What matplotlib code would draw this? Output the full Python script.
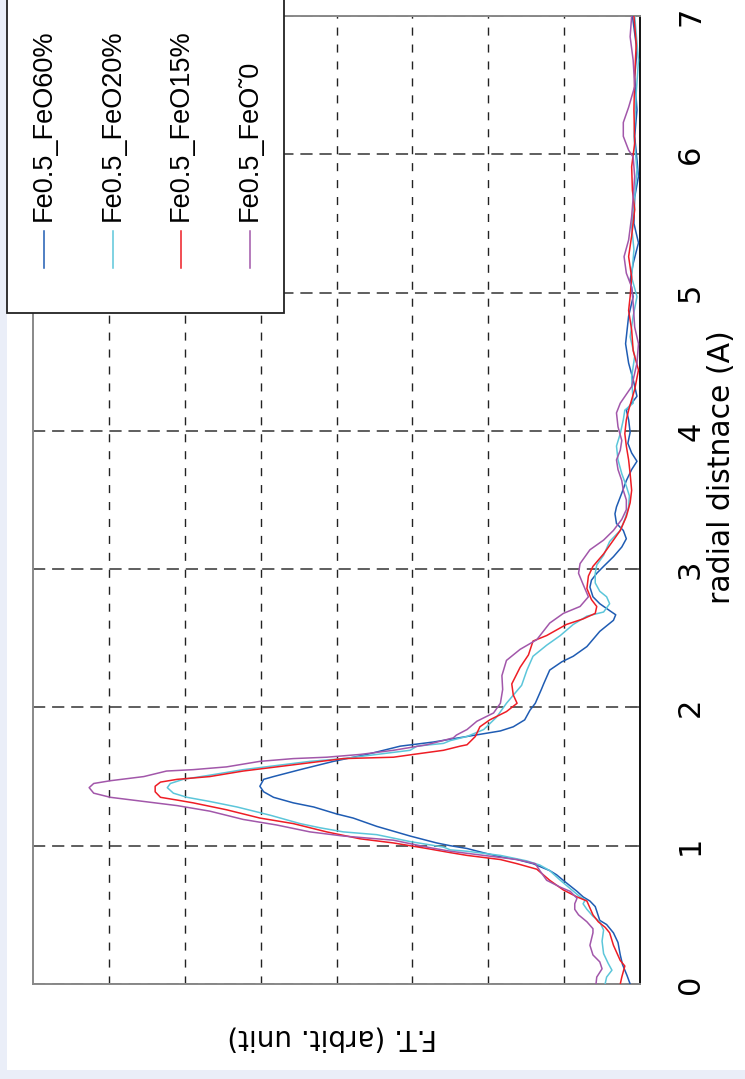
import matplotlib
matplotlib.use("Agg")
import matplotlib.pyplot as plt
from matplotlib.patches import Rectangle
from matplotlib.lines import Line2D

# radial distance (A) and F.T. amplitude (arbit. unit)
r_blue = [0.00, 0.06, 0.14, 0.21, 0.30, 0.37, 0.43, 0.46, 0.56, 0.60, 0.63, 0.67, 0.74, 0.79, 0.82,
          0.87, 0.90, 0.92, 0.95, 0.98, 1.00, 1.02, 1.07, 1.14, 1.20, 1.23, 1.28, 1.31, 1.35, 1.39,
          1.43, 1.48, 1.50, 1.55, 1.61, 1.66, 1.72, 1.75, 1.79, 1.83, 1.86, 1.91, 1.98, 2.03, 2.13,
          2.17, 2.27, 2.33, 2.37, 2.44, 2.55, 2.63, 2.67, 2.70, 2.75, 2.80, 2.87, 2.92, 2.97, 3.02,
          3.09, 3.16, 3.22, 3.28, 3.33, 3.40, 3.45, 3.55, 3.64, 3.72, 3.78, 3.84, 3.91, 3.99, 4.08,
          4.15, 4.25, 4.37, 4.49, 4.63, 4.83, 4.97, 5.09, 5.21, 5.36, 5.50, 5.69, 5.84, 5.96, 6.13,
          6.32, 6.56, 6.75, 7.00]
ft_blue = [0.13, 0.17, 0.23, 0.26, 0.29, 0.35, 0.44, 0.53, 0.59, 0.66, 0.75, 0.83, 0.99, 1.10, 1.19,
           1.41, 1.62, 1.84, 2.07, 2.28, 2.50, 2.68, 3.03, 3.47, 3.78, 4.00, 4.30, 4.57, 4.83, 4.96,
           5.01, 4.96, 4.83, 4.48, 4.04, 3.60, 3.16, 2.72, 2.28, 1.84, 1.67, 1.52, 1.45, 1.38, 1.30,
           1.27, 1.19, 1.03, 0.88, 0.70, 0.53, 0.35, 0.32, 0.40, 0.53, 0.62, 0.66, 0.64, 0.57, 0.48,
           0.35, 0.24, 0.18, 0.22, 0.31, 0.33, 0.31, 0.24, 0.18, 0.11, 0.04, 0.11, 0.16, 0.13, 0.15,
           0.18, 0.04, 0.09, 0.15, 0.19, 0.15, 0.09, 0.13, 0.09, 0.02, 0.08, 0.07, 0.02, 0.04, 0.07,
           0.04, 0.07, 0.04, 0.10]

r_cyan = [0.00, 0.05, 0.10, 0.15, 0.22, 0.31, 0.39, 0.45, 0.49, 0.54, 0.58, 0.61, 0.63, 0.69, 0.75,
          0.82, 0.86, 0.89, 0.93, 0.96, 0.97, 0.99, 1.03, 1.08, 1.10, 1.13, 1.16, 1.22, 1.28, 1.32,
          1.35, 1.38, 1.42, 1.45, 1.48, 1.51, 1.55, 1.58, 1.61, 1.63, 1.66, 1.69, 1.72, 1.74, 1.76,
          1.79, 1.84, 1.93, 2.03, 2.16, 2.27, 2.37, 2.45, 2.52, 2.60, 2.66, 2.69, 2.75, 2.80, 2.84,
          2.90, 2.97, 3.03, 3.10, 3.20, 3.28, 3.36, 3.45, 3.53, 3.60, 3.69, 3.79, 3.89, 3.98, 4.08,
          4.15, 4.20, 4.39, 4.54, 4.68, 4.83, 4.97, 5.11, 5.31, 5.48, 5.69, 5.89, 6.13, 6.44, 6.68,
          7.00]
ft_cyan = [0.46, 0.44, 0.37, 0.42, 0.48, 0.50, 0.48, 0.53, 0.62, 0.70, 0.75, 0.72, 0.79, 0.92, 1.05,
           1.19, 1.32, 1.49, 1.84, 2.28, 2.50, 2.59, 3.03, 3.47, 3.91, 4.22, 4.48, 4.87, 5.31, 5.67,
           5.97, 6.15, 6.23, 6.19, 6.02, 5.67, 5.23, 4.79, 4.35, 3.91, 3.47, 3.03, 2.94, 2.59, 2.50,
           2.28, 2.06, 1.89, 1.76, 1.56, 1.49, 1.41, 1.23, 1.05, 0.88, 0.70, 0.48, 0.40, 0.44, 0.53,
           0.59, 0.59, 0.57, 0.48, 0.40, 0.26, 0.20, 0.15, 0.14, 0.18, 0.24, 0.29, 0.31, 0.26, 0.22,
           0.20, 0.09, 0.11, 0.07, 0.13, 0.09, 0.04, 0.11, 0.08, 0.11, 0.07, 0.04, 0.08, 0.05, 0.02,
           0.07]

r_red = [0.00, 0.05, 0.13, 0.17, 0.28, 0.37, 0.41, 0.45, 0.50, 0.55, 0.60, 0.63, 0.68, 0.75, 0.83,
         0.87, 0.90, 0.93, 0.95, 0.98, 1.02, 1.05, 1.10, 1.16, 1.20, 1.26, 1.31, 1.33, 1.35, 1.39,
         1.43, 1.46, 1.48, 1.50, 1.54, 1.57, 1.60, 1.63, 1.64, 1.66, 1.69, 1.72, 1.73, 1.79, 1.86,
         1.91, 1.97, 2.03, 2.09, 2.13, 2.17, 2.29, 2.38, 2.48, 2.52, 2.60, 2.64, 2.68, 2.73, 2.78,
         2.86, 2.95, 3.02, 3.11, 3.21, 3.28, 3.38, 3.48, 3.57, 3.69, 3.79, 3.89, 3.98, 4.08, 4.15,
         4.30, 4.44, 4.58, 4.73, 4.87, 4.97, 5.11, 5.26, 5.41, 5.60, 5.74, 5.91, 6.08, 6.32, 6.56,
         6.80, 7.00]
ft_red = [0.26, 0.24, 0.20, 0.26, 0.35, 0.40, 0.46, 0.55, 0.62, 0.66, 0.70, 0.83, 1.01, 1.19, 1.36,
          1.62, 1.84, 2.28, 2.50, 2.81, 3.25, 3.69, 4.13, 4.57, 5.01, 5.45, 5.89, 6.10, 6.32, 6.39,
          6.39, 6.32, 6.10, 5.67, 5.23, 4.79, 4.35, 3.91, 3.25, 2.99, 2.59, 2.37, 2.28, 2.17, 2.11,
          1.98, 1.76, 1.62, 1.67, 1.68, 1.69, 1.58, 1.47, 1.41, 1.23, 0.97, 0.75, 0.59, 0.57, 0.64,
          0.70, 0.68, 0.62, 0.48, 0.35, 0.26, 0.18, 0.13, 0.11, 0.13, 0.15, 0.18, 0.20, 0.18, 0.15,
          0.07, 0.02, 0.09, 0.11, 0.15, 0.13, 0.11, 0.15, 0.11, 0.07, 0.10, 0.11, 0.07, 0.08, 0.07,
          0.05, 0.08]

r_purple = [0.00, 0.05, 0.11, 0.16, 0.21, 0.28, 0.37, 0.40, 0.45, 0.50, 0.54, 0.58, 0.62, 0.67, 0.70,
            0.75, 0.82, 0.87, 0.90, 0.93, 0.96, 0.99, 1.04, 1.07, 1.10, 1.15, 1.19, 1.25, 1.29, 1.32,
            1.35, 1.38, 1.42, 1.45, 1.47, 1.50, 1.54, 1.55, 1.57, 1.61, 1.63, 1.64, 1.66, 1.69, 1.73,
            1.78, 1.80, 1.84, 1.90, 1.96, 2.03, 2.13, 2.23, 2.34, 2.42, 2.49, 2.61, 2.68, 2.73, 2.80,
            2.89, 2.97, 3.04, 3.14, 3.21, 3.28, 3.36, 3.43, 3.50, 3.57, 3.64, 3.72, 3.79, 3.86, 3.93,
            4.03, 4.13, 4.20, 4.32, 4.49, 4.63, 4.75, 4.92, 5.04, 5.14, 5.26, 5.38, 5.55, 5.69, 5.84,
            5.98, 6.03, 6.13, 6.23, 6.34, 6.49, 6.68, 6.85, 7.00]
ft_purple = [0.58, 0.57, 0.50, 0.53, 0.62, 0.66, 0.62, 0.62, 0.70, 0.81, 0.86, 0.86, 0.83, 0.92, 1.05,
             1.23, 1.32, 1.38, 1.62, 2.06, 2.50, 2.81, 3.25, 3.91, 4.35, 4.79, 5.23, 5.67, 6.10, 6.54,
             6.98, 7.20, 7.26, 7.20, 6.98, 6.54, 6.24, 5.89, 5.45, 5.01, 4.57, 4.13, 3.69, 3.25, 2.81,
             2.46, 2.42, 2.28, 2.15, 1.93, 1.84, 1.81, 1.82, 1.76, 1.58, 1.36, 1.19, 1.01, 0.79, 0.68,
             0.75, 0.81, 0.79, 0.66, 0.48, 0.35, 0.24, 0.18, 0.18, 0.22, 0.24, 0.29, 0.31, 0.26, 0.24,
             0.29, 0.31, 0.26, 0.11, 0.04, 0.02, 0.07, 0.09, 0.11, 0.18, 0.21, 0.15, 0.11, 0.09, 0.07,
             0.09, 0.15, 0.22, 0.22, 0.15, 0.07, 0.09, 0.13, 0.11]

names = ["Fe0.5_FeO60%", "Fe0.5_FeO20%", "Fe0.5_FeO15%", "Fe0.5_FeO\u02dc0"]
colors = ["#1f5cb3", "#5cc6da", "#ee1d25", "#a257aa"]
r_ticks = [0, 1, 2, 3, 4, 5, 6, 7]

W, H = 745, 1079
fig = plt.figure(figsize=(W / 100, H / 100), dpi=100, facecolor="#eaeef8")
fig.add_artist(Rectangle((7 / W, 9 / H), 1, 1, transform=fig.transFigure,
                         facecolor="white", edgecolor="none", zorder=-10))

ax = fig.add_axes([33 / W, 1 - 984 / H, 607 / W, 968 / H])
for r, ft, c in zip([r_blue, r_cyan, r_red, r_purple],
                    [ft_blue, ft_cyan, ft_red, ft_purple], colors):
    ax.plot(ft, r, color=c, lw=1.1, zorder=3)

ax.set_xlim(8, 0)
ax.set_ylim(0, 7)
ax.set_xticks(range(1, 8))
ax.set_yticks(r_ticks)
ax.xaxis.grid(True, color="#222222", lw=1.0, linestyle=(0, (5.8, 6.4)))
ax.yaxis.grid(True, color="#333333", lw=1.1, linestyle=(0, (8.0, 4.5)))
ax.tick_params(axis="x", length=0, labelbottom=False)
ax.yaxis.tick_right()
ax.tick_params(axis="y", direction="in", length=7, width=1.2, color="#555555",
               pad=26, labelsize=22, labelrotation=90)
for lab in ax.get_yticklabels():
    lab.set_verticalalignment("center")

for side in ["left", "top", "bottom"]:
    ax.spines[side].set_color("#888888")
    ax.spines[side].set_linewidth(1.4)
ax.spines["right"].set_color("#111111")
ax.spines["right"].set_linewidth(1.4)

ax.set_ylabel("radial distnace (A)", fontsize=21.5, rotation=90)
ax.yaxis.set_label_position("right")
ax.yaxis.set_label_coords(1.135, 0.534)
ax.yaxis.label.set_verticalalignment("center")
ax.set_xlabel("F.T. (arbit. unit)", fontsize=20, rotation=180)
ax.xaxis.set_label_coords(0.4926, -0.055)
ax.xaxis.label.set_verticalalignment("center")

# legend drawn by hand, entries stacked left to right and read bottom to top
fig.add_artist(Rectangle((7 / W, 1 - 313 / H), 277 / W, 0.5, transform=fig.transFigure,
                         facecolor="white", edgecolor="#222222", lw=1.3, zorder=5))
leg_x = [44, 113, 181, 250]
for x, name, c in zip(leg_x, names, colors):
    fig.add_artist(Line2D([x / W, x / W], [1 - 268 / H, 1 - 231 / H],
                          transform=fig.transFigure, color=c, lw=1.1, zorder=6))
    fig.text(x / W, 1 - 221 / H, name, rotation=90, ha="center", va="bottom",
             fontsize=19.5, family=["Liberation Sans", "DejaVu Sans"], zorder=6)

fig.savefig("out.png", dpi=100, facecolor=fig.get_facecolor())
